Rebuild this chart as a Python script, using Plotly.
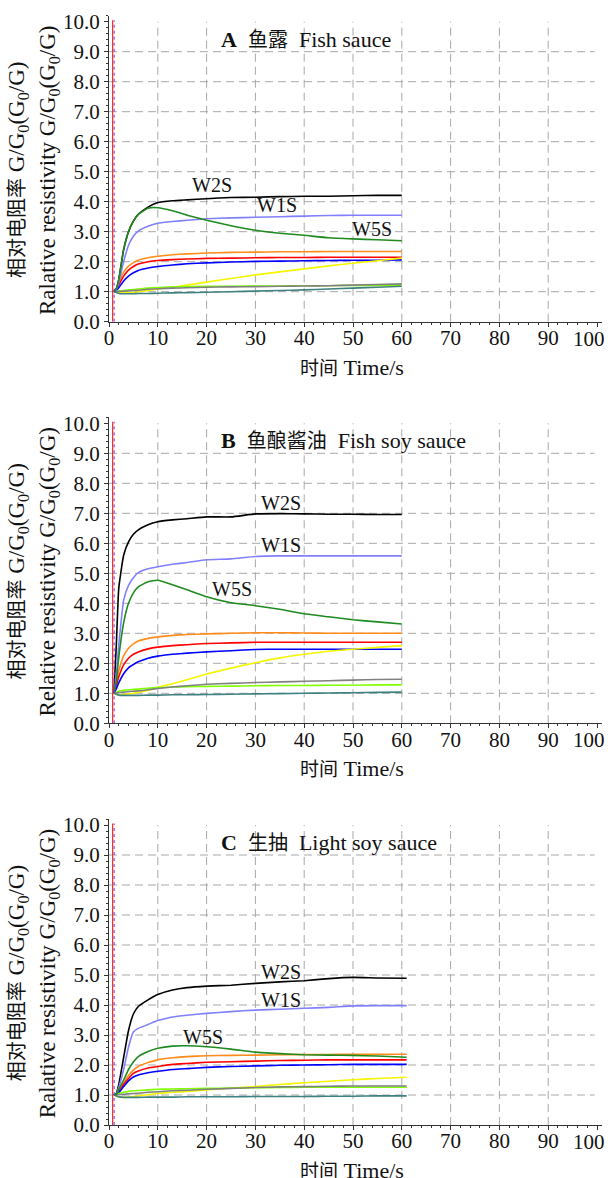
import plotly.graph_objects as go

# ---------------- data ----------------
SENSORS = ["W1W", "W1C", "W5C", "W3C", "W6S", "W2W", "W3S", "W2S", "W1S", "W5S"]
COLORS = ["#ff8c1a", "#ff0000", "#0000ff", "#f5f500", "#80ff00", "#808080", "#3f8080",
          "#000000", "#8080ff", "#1f8a1f"]

TIME_A = [1, 1.5, 2, 3, 4, 5, 6, 8, 10, 13, 16, 20, 25, 30, 35, 40, 45, 50, 55, 60]
TIME_B = [1, 1.5, 2, 3, 4, 5, 6, 8, 10, 13, 16, 20, 25, 30, 35, 40, 45, 50, 55, 60]
TIME_C = [1, 1.5, 2, 3, 4, 5, 6, 8, 10, 13, 16, 20, 25, 30, 35, 40, 45, 50, 55, 61]

# Panel A  鱼露 Fish sauce
A_W1W = [1.0, 1.1, 1.3, 1.65, 1.85, 1.97, 2.05, 2.13, 2.18, 2.23, 2.26, 2.29, 2.31, 2.32, 2.33, 2.33, 2.34, 2.34, 2.34, 2.34]
A_W1C = [1.0, 1.07, 1.22, 1.52, 1.72, 1.84, 1.92, 2.0, 2.04, 2.07, 2.09, 2.11, 2.12, 2.13, 2.14, 2.14, 2.15, 2.15, 2.15, 2.15]
A_W5C = [1.0, 1.04, 1.13, 1.36, 1.52, 1.63, 1.71, 1.79, 1.84, 1.89, 1.93, 1.96, 1.99, 2.01, 2.02, 2.03, 2.04, 2.05, 2.05, 2.06]
A_W3C = [1.0, 0.99, 0.97, 0.96, 0.97, 0.98, 1.0, 1.04, 1.09, 1.15, 1.22, 1.32, 1.44, 1.56, 1.66, 1.76, 1.86, 1.95, 2.03, 2.12]
A_W6S = [1.0, 1.01, 1.02, 1.04, 1.06, 1.07, 1.09, 1.12, 1.14, 1.16, 1.17, 1.18, 1.18, 1.19, 1.19, 1.2, 1.2, 1.21, 1.21, 1.22]
A_W2W = [1.0, 1.0, 1.01, 1.02, 1.03, 1.04, 1.05, 1.08, 1.1, 1.12, 1.13, 1.15, 1.16, 1.17, 1.18, 1.19, 1.2, 1.22, 1.24, 1.26]
A_W3S = [1.0, 0.97, 0.94, 0.93, 0.93, 0.93, 0.94, 0.94, 0.95, 0.96, 0.97, 0.98, 1.0, 1.02, 1.04, 1.06, 1.09, 1.12, 1.15, 1.18]
A_W2S = [1.0, 1.1, 1.4, 2.4, 3.0, 3.35, 3.58, 3.82, 3.97, 4.03, 4.06, 4.1, 4.14, 4.15, 4.17, 4.18, 4.18, 4.2, 4.21, 4.21]
A_W1S = [1.0, 1.08, 1.3, 2.0, 2.55, 2.85, 3.02, 3.18, 3.28, 3.34, 3.38, 3.43, 3.46, 3.48, 3.5, 3.52, 3.54, 3.55, 3.55, 3.55]
A_W5S = [1.0, 1.1, 1.4, 2.4, 3.0, 3.35, 3.58, 3.78, 3.8, 3.7, 3.55, 3.38, 3.2, 3.05, 2.95, 2.88, 2.8, 2.76, 2.73, 2.7]

# Panel B  鱼酿酱油 Fish soy sauce
B_W1W = [1.0, 1.35, 1.75, 2.25, 2.5, 2.65, 2.74, 2.83, 2.88, 2.93, 2.96, 2.98, 3.0, 3.02, 3.02, 3.01, 3.0, 3.0, 3.0, 3.0]
B_W1C = [1.0, 1.25, 1.55, 1.95, 2.17, 2.3, 2.38, 2.48, 2.54, 2.59, 2.62, 2.66, 2.68, 2.7, 2.7, 2.7, 2.7, 2.7, 2.7, 2.7]
B_W5C = [1.0, 1.15, 1.35, 1.65, 1.85, 1.96, 2.05, 2.17, 2.24, 2.3, 2.34, 2.38, 2.42, 2.46, 2.47, 2.47, 2.47, 2.47, 2.47, 2.47]
B_W3C = [1.0, 0.97, 0.95, 0.96, 0.98, 1.0, 1.03, 1.1, 1.2, 1.32, 1.45, 1.64, 1.84, 2.02, 2.18, 2.3, 2.4, 2.47, 2.53, 2.59]
B_W6S = [1.0, 1.03, 1.07, 1.1, 1.12, 1.13, 1.14, 1.17, 1.19, 1.21, 1.22, 1.23, 1.24, 1.25, 1.26, 1.26, 1.27, 1.27, 1.28, 1.28]
B_W2W = [1.0, 1.01, 1.02, 1.04, 1.06, 1.07, 1.08, 1.12, 1.16, 1.21, 1.25, 1.3, 1.33, 1.36, 1.38, 1.4, 1.42, 1.44, 1.46, 1.47]
B_W3S = [1.0, 0.97, 0.94, 0.93, 0.93, 0.93, 0.93, 0.94, 0.94, 0.95, 0.95, 0.96, 0.97, 0.98, 0.99, 1.0, 1.01, 1.02, 1.03, 1.04]
B_W2S = [1.0, 2.6, 4.5, 5.6, 6.05, 6.3, 6.45, 6.62, 6.72, 6.78, 6.82, 6.88, 6.88, 6.98, 6.99, 6.98, 6.97, 6.97, 6.96, 6.96]
B_W1S = [1.0, 1.6, 2.6, 4.1, 4.6, 4.85, 5.02, 5.15, 5.22, 5.3, 5.36, 5.45, 5.48, 5.56, 5.58, 5.58, 5.58, 5.58, 5.58, 5.58]
B_W5S = [1.0, 1.4, 2.2, 3.35, 4.0, 4.35, 4.55, 4.72, 4.77, 4.62, 4.45, 4.22, 4.02, 3.92, 3.8, 3.65, 3.55, 3.45, 3.38, 3.31]

# Panel C  生抽 Light soy sauce
C_W1W = [1.0, 1.02, 1.12, 1.4, 1.65, 1.83, 1.95, 2.08, 2.17, 2.24, 2.28, 2.31, 2.32, 2.33, 2.34, 2.35, 2.35, 2.36, 2.36, 2.36]
C_W1C = [1.0, 1.02, 1.1, 1.35, 1.55, 1.72, 1.8, 1.9, 1.95, 2.02, 2.05, 2.09, 2.11, 2.13, 2.15, 2.16, 2.17, 2.17, 2.17, 2.17]
C_W5C = [1.0, 1.02, 1.08, 1.28, 1.47, 1.6, 1.67, 1.74, 1.79, 1.85, 1.88, 1.92, 1.95, 1.97, 1.99, 2.0, 2.01, 2.02, 2.02, 2.02]
C_W3C = [1.0, 0.97, 0.94, 0.92, 0.93, 0.95, 0.97, 1.01, 1.05, 1.09, 1.12, 1.17, 1.23, 1.28, 1.35, 1.41, 1.46, 1.51, 1.55, 1.59]
C_W6S = [1.0, 1.02, 1.05, 1.09, 1.12, 1.14, 1.15, 1.17, 1.19, 1.2, 1.21, 1.22, 1.23, 1.24, 1.25, 1.26, 1.26, 1.26, 1.26, 1.26]
C_W2W = [1.0, 1.0, 1.01, 1.02, 1.04, 1.05, 1.06, 1.09, 1.11, 1.14, 1.16, 1.19, 1.22, 1.25, 1.27, 1.28, 1.29, 1.3, 1.3, 1.3]
C_W3S = [1.0, 0.97, 0.94, 0.92, 0.92, 0.92, 0.92, 0.93, 0.93, 0.93, 0.94, 0.94, 0.94, 0.95, 0.95, 0.95, 0.96, 0.96, 0.97, 0.97]
C_W2S = [1.0, 1.05, 1.35, 2.25, 3.15, 3.7, 3.95, 4.17, 4.35, 4.5, 4.58, 4.63, 4.66, 4.72, 4.77, 4.81, 4.88, 4.92, 4.9, 4.89]
C_W1S = [1.0, 1.03, 1.25, 1.85, 2.6, 3.1, 3.22, 3.35, 3.48, 3.6, 3.66, 3.72, 3.78, 3.83, 3.86, 3.89, 3.92, 3.97, 3.98, 3.98]
C_W5S = [1.0, 1.03, 1.18, 1.5, 1.85, 2.1, 2.28, 2.45, 2.56, 2.63, 2.64, 2.61, 2.53, 2.43, 2.38, 2.34, 2.33, 2.32, 2.3, 2.26]

PANEL_TITLES = ["鱼露 Fish sauce", "鱼酿酱油 Fish soy sauce", "生抽 Light soy sauce"]
PANEL_LETTERS = ["A", "B", "C"]
Y_TITLE_CN = "相对电阻率 G/G<sub>0</sub>(G<sub>0</sub>/G)"
Y_TITLE_EN = ["Ralative resistivity G/G<sub>0</sub>(G<sub>0</sub>/G)",
              "Relative resistivity G/G<sub>0</sub>(G<sub>0</sub>/G)",
              "Ralative resistivity G/G<sub>0</sub>(G<sub>0</sub>/G)"]
X_TITLE = "时间 Time/s"
X_TICKS = [0, 10, 20, 30, 40, 50, 60, 70, 80, 90, 100]
X_TICKTEXT = ["0", "10", "20", "30", "40", "50", "60", "70", "80", "90", ""]
X_LAST_LABEL = "100"
Y_TICKS = [0, 1, 2, 3, 4, 5, 6, 7, 8, 9, 10]
LABELS = ["W2S", "W1S", "W5S"]
LABEL_POS = [
    [(21.1, 4.56), (34.5, 3.89), (53.9, 3.09)],
    [(35.2, 7.34), (35.2, 5.94), (25.3, 4.48)],
    [(35.2, 5.11), (35.2, 4.17), (19.3, 2.94)],
]

panels = [
    (TIME_A, [A_W1W, A_W1C, A_W5C, A_W3C, A_W6S, A_W2W, A_W3S, A_W2S, A_W1S, A_W5S]),
    (TIME_B, [B_W1W, B_W1C, B_W5C, B_W3C, B_W6S, B_W2W, B_W3S, B_W2S, B_W1S, B_W5S]),
    (TIME_C, [C_W1W, C_W1C, C_W5C, C_W3C, C_W6S, C_W2W, C_W3S, C_W2S, C_W1S, C_W5S]),
]

# ---------------- layout ----------------
W, H = 608, 1178
SERIF = "Liberation Serif, Times New Roman, Noto Sans CJK SC, serif"
AXC = "#333333"
GRIDC = "#a8a8a8"
TXT = "#111111"

x0_px = 109.0
px_per_x = 4.88
xmax = 101.0
zero_px = [321.7, 723.3, 1125.0]   # pixel row of y=0 for each panel
px_per_y = 30.0
ymax = 10.2


def cn(s, size):
    return f'<span style="font-size:{size}px">{s}</span>'


fig = go.Figure()
shapes = []
annotations = []

for i, (t, series) in enumerate(panels):
    xa = "x" if i == 0 else f"x{i+1}"
    ya = "y" if i == 0 else f"y{i+1}"
    for name, col, vals in zip(SENSORS, COLORS, series):
        fig.add_trace(go.Scatter(
            x=t, y=vals, mode="lines", name=name, showlegend=False,
            line=dict(color=col, width=1.6, shape="spline", smoothing=0.45),
            xaxis=xa, yaxis=ya, hoverinfo="skip"))

    xdom = [x0_px / W, (x0_px + xmax * px_per_x) / W]
    ydom = [(H - zero_px[i]) / H, (H - (zero_px[i] - ymax * px_per_y)) / H]
    axis_common = dict(showline=True, linecolor=AXC, linewidth=1, ticks="outside",
                       tickcolor=AXC, ticklen=4, showgrid=False, zeroline=False,
                       automargin=False,
                       tickfont=dict(family=SERIF, size=21, color=TXT))
    xkey = "xaxis" if i == 0 else f"xaxis{i+1}"
    ykey = "yaxis" if i == 0 else f"yaxis{i+1}"
    fig.update_layout(**{
        xkey: dict(domain=xdom, range=[0, xmax], anchor=ya, tickvals=X_TICKS,
                   ticktext=X_TICKTEXT, ticklabelstandoff=-7,
                   minor=dict(dtick=2, ticks="outside", ticklen=2, tickcolor=AXC),
                   **axis_common),
        ykey: dict(domain=ydom, range=[0, ymax], anchor=xa, tickvals=Y_TICKS,
                   tickformat=".1f",
                   minor=dict(dtick=0.2, ticks="outside", ticklen=2, tickcolor=AXC),
                   **axis_common),
    })

    # last x tick label kept inside the page
    annotations.append(dict(x=607 / W, y=(H - (zero_px[i] + 3)) / H, xref="paper", yref="paper",
                            xanchor="right", yanchor="top", showarrow=False, text=X_LAST_LABEL,
                            font=dict(family=SERIF, size=21, color=TXT)))

    # dashed grid
    for gx in X_TICKS[1:-1]:
        shapes.append(dict(type="line", xref=xa, yref=ya, x0=gx, x1=gx, y0=0, y1=10,
                           line=dict(color=GRIDC, width=1, dash="8px,5px"), layer="below"))
    for gy in Y_TICKS[1:-1]:
        shapes.append(dict(type="line", xref=xa, yref=ya, x0=0, x1=99.5, y0=gy, y1=gy,
                           line=dict(color=GRIDC, width=1, dash="8px,5px"), layer="below"))
    # start markers
    shapes.append(dict(type="line", xref=xa, yref=ya, x0=0.75, x1=0.75, y0=0, y1=10.05,
                       line=dict(color="#ff2020", width=1.2)))
    shapes.append(dict(type="line", xref=xa, yref=ya, x0=1.05, x1=1.05, y0=0, y1=10.05,
                       line=dict(color="#4040ff", width=1, dash="dot")))

    # axis arrows
    annotations.append(dict(x=0, y=ymax + 0.05, xref=xa, yref=ya, ax=0, ay=9, text="",
                            showarrow=True, arrowhead=2, arrowsize=0.8, arrowwidth=1,
                            arrowcolor=AXC))
    annotations.append(dict(x=xmax + 0.3, y=0, xref=xa, yref=ya, ax=-9, ay=0, text="",
                            showarrow=True, arrowhead=2, arrowsize=0.8, arrowwidth=1,
                            arrowcolor=AXC))

    # panel title
    cn_part, en_part = PANEL_TITLES[i].split(" ", 1)
    annotations.append(dict(x=22.6, y=9.42, xref=xa, yref=ya, xanchor="left", yanchor="middle",
                            showarrow=False,
                            text=f"<b>{PANEL_LETTERS[i]}</b>\u00a0\u00a0{cn(cn_part, 20)}\u00a0\u00a0{en_part}",
                            font=dict(family=SERIF, size=22, color=TXT)))
    # curve labels
    for lab, (lx, ly) in zip(LABELS, LABEL_POS[i]):
        annotations.append(dict(x=lx, y=ly, xref=xa, yref=ya, showarrow=False, text=lab,
                                xanchor="center", yanchor="middle",
                                font=dict(family=SERIF, size=20, color=TXT)))

    # axis titles (paper coordinates)
    cn_y, rest_y = Y_TITLE_CN.split(" ", 1)
    annotations.append(dict(x=18 / W, y=(H - (zero_px[i] - 151.7)) / H, xref="paper", yref="paper",
                            xanchor="center", yanchor="middle",
                            showarrow=False, textangle=-90, text=f"{cn(cn_y, 20)} {rest_y}",
                            font=dict(family=SERIF, size=23, color=TXT)))
    annotations.append(dict(x=49 / W, y=(H - (zero_px[i] - 151.7)) / H, xref="paper", yref="paper",
                            xanchor="center", yanchor="middle",
                            showarrow=False, textangle=-90, text=Y_TITLE_EN[i],
                            font=dict(family=SERIF, size=23, color=TXT)))
    cn_x, rest_x = X_TITLE.split(" ", 1)
    annotations.append(dict(x=352 / W, y=(H - (zero_px[i] + 45.3)) / H, xref="paper", yref="paper",
                            xanchor="center", yanchor="middle",
                            showarrow=False, text=f"{cn(cn_x, 19)} {rest_x}",
                            font=dict(family=SERIF, size=22, color=TXT)))

fig.update_layout(width=W, height=H, margin=dict(l=0, r=0, t=0, b=0, autoexpand=False),
                  paper_bgcolor="white", plot_bgcolor="white",
                  shapes=shapes, annotations=annotations, showlegend=False)

fig.write_html("out.html", config={"displayModeBar": False, "staticPlot": True},
               post_script="document.body.style.margin='0';document.body.style.overflow='hidden';")
